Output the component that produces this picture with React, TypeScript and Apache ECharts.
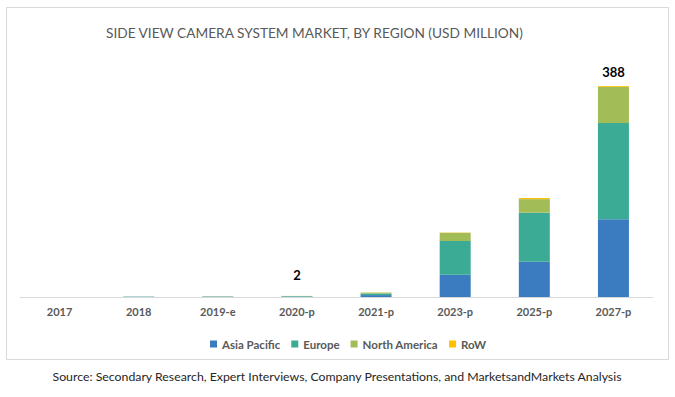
import React, { useEffect, useRef } from "react";
import * as echarts from "echarts";

const categories = ["2017", "2018", "2019-e", "2020-p", "2021-p", "2023-p", "2025-p", "2027-p"];
const asiaPacific = [0.05, 0.4, 0.5, 0.7, 3.5, 41, 65, 143];
const europe = [0.05, 0.4, 0.6, 0.9, 3.0, 62, 90, 177];
const northAmerica = [0.0, 0.1, 0.2, 0.3, 1.5, 15, 25, 66.5];
const row = [0.0, 0.0, 0.1, 0.1, 0.3, 0.5, 2, 1.5];
const totalLabels = ["", "", "", "2", "", "", "", "388"];
const seriesNames = ["Asia Pacific", "Europe", "North America", "RoW"];
const colors = ["#3b7bbf", "#3bab95", "#a2bc58", "#ffc000"];

const FONT = "Lato, 'Open Sans', sans-serif";

export default function App() {
  const ref = useRef<HTMLDivElement>(null);
  useEffect(() => {
    if (!ref.current) return;
    const chart = echarts.init(ref.current, null, { renderer: "svg" });
    const values = [asiaPacific, europe, northAmerica, row];
    const series = values.map((vals, si) => ({
      name: seriesNames[si],
      type: "bar",
      stack: "total",
      barWidth: 31,
      itemStyle: { color: colors[si] },
      data: vals.map((v, i) => {
        if (si === 3 && totalLabels[i]) {
          return {
            value: v,
            label: {
              show: true,
              position: "top",
              distance: i === 7 ? 8 : 14,
              formatter: totalLabels[i],
              fontFamily: FONT,
              fontWeight: "bold",
              fontSize: 13,
              color: "#000000",
            },
          };
        }
        return v;
      }),
    }));
    chart.setOption({
      animation: false,
      backgroundColor: "#ffffff",
      textStyle: { fontFamily: FONT },
      title: {
        text: "SIDE VIEW CAMERA SYSTEM MARKET, BY REGION (USD MILLION)",
        left: 101,
        top: 20,
        textStyle: { fontFamily: FONT, fontSize: 13.7, fontWeight: "normal", color: "#595959" },
      },
      legend: {
        data: seriesNames,
        left: 205,
        top: 333,
        itemWidth: 7,
        itemHeight: 7,
        itemGap: 11,
        icon: "rect",
        textStyle: { fontFamily: FONT, fontSize: 11.5, fontWeight: "bold", color: "#595959" },
      },
      grid: { left: 20, right: 22, top: 79.5, bottom: 100 },
      xAxis: {
        type: "category",
        data: categories,
        axisLine: { lineStyle: { color: "#d9d9d9", width: 1 } },
        axisTick: { show: false },
        axisLabel: { margin: 9, fontFamily: FONT, fontSize: 11, fontWeight: "bold", color: "#595959" },
      },
      yAxis: {
        type: "value",
        min: 0,
        max: 400,
        show: false,
        splitLine: { show: false },
      },
      series,
      graphic: [
        {
          type: "rect",
          shape: { x: 6.5, y: 7.5, width: 662, height: 352 },
          style: { fill: "none", stroke: "#d9d9d9", lineWidth: 1 },
          silent: true,
        },
        {
          type: "text",
          left: "center",
          top: 370,
          style: {
            text: "Source: Secondary Research, Expert Interviews, Company Presentations, and MarketsandMarkets Analysis",
            fontFamily: FONT,
            fontSize: 12.3,
            fill: "#262626",
          },
        },
      ],
    });
    return () => chart.dispose();
  }, []);
  return <div ref={ref} style={{ position: "fixed", left: 0, top: 0, width: 675, height: 397 }} />;
}
